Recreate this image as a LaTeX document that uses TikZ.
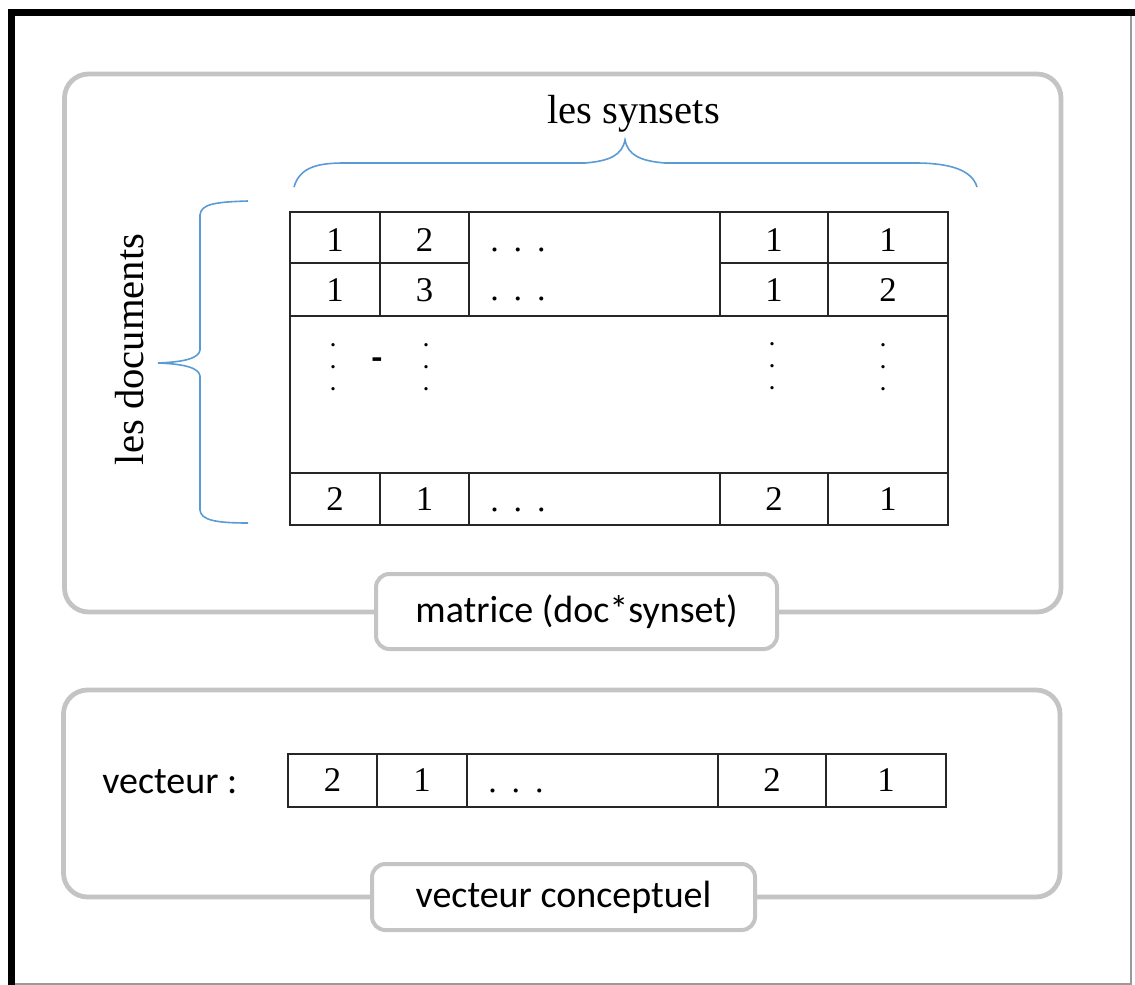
\documentclass[tikz,border=0pt]{standalone}
\usepackage{fontspec}
\setmainfont{Liberation Serif}
\newfontfamily\labelfont{Carlito}
\definecolor{boxgray}{HTML}{C4C4C4}
\definecolor{gridline}{HTML}{262626}
\definecolor{braceblue}{HTML}{5B9BD5}
\definecolor{edgegray}{HTML}{9A9A9A}
% horizontal and vertical ellipses used inside the cells
\newcommand\rowdots{.\hskip0.44em.\hskip0.44em.}
\newcommand\coldots{\vbox{\baselineskip=16.5pt\lineskiplimit=-10pt\hbox{.}\hbox{.}\hbox{.}}}
\begin{document}
\begin{tikzpicture}[x=0.75pt,y=-0.75pt,
  outline/.style={draw=boxgray, line width=3.6pt, rounded corners=18pt},
  tagbox/.style={draw=boxgray, line width=3pt, fill=white, rounded corners=10pt,
    inner sep=0pt, font=\labelfont\fontsize{28.5}{30}\selectfont},
  grid/.style={draw=gridline, line width=1.2pt},
  num/.style={anchor=base, inner sep=0pt, font=\fontsize{26}{28}\selectfont},
  dotsrow/.style={anchor=base west, inner sep=0pt, font=\fontsize{25.5}{28}\selectfont},
  dotscol/.style={anchor=base, inner sep=0pt, font=\bfseries\fontsize{15}{16.5}\selectfont},
  caption/.style={anchor=base, inner sep=0pt, font=\fontsize{30.5}{32}\selectfont},
  plain/.style={anchor=base west, inner sep=0pt, font=\labelfont\fontsize{28.5}{30}\selectfont},
  brace/.style={draw=braceblue, line width=1.2pt}]
\useasboundingbox (0,0) rectangle (1135,985);

% page frame
\fill[black] (8,9) rectangle (1135,16);
\fill[black] (8,9) rectangle (15,985);
\draw[edgegray, line width=0.8pt] (1131,16) -- (1131,984) -- (15,984);

% grouping panels
\draw[outline] (64.5,74) rectangle (1061,612);
\draw[outline] (63.5,690) rectangle (1060,897);

% panel labels
\node[tagbox, minimum width=300.75pt, minimum height=56.25pt] (mlabel) at (576.5,611.5) {matrice (doc*synset)};
\node[tagbox, minimum width=287.25pt, minimum height=49.5pt] (vlabel) at (563.5,897) {vecteur conceptuel};

% braces
\draw[brace] (294,187) .. controls (300,166) and (320,163) .. (345,163) -- (585,163)
  .. controls (610,161) and (622,155) .. (625,140)
  .. controls (628,155) and (640,161) .. (665,163) -- (915,163)
  .. controls (950,163) and (972,170) .. (977,187);
\draw[brace] (248,201) .. controls (215,202) and (201,204) .. (200,215) -- (200,350)
  .. controls (199,358) and (185,362) .. (158,363)
  .. controls (185,364) and (199,368) .. (200,376) -- (200,510)
  .. controls (201,520) and (215,523) .. (248,523);
\node[caption] (synsets) at (633.5,123) {les synsets};
\node[caption, rotate=90] (documents) at (143,349.5) {les documents};

% document x synset matrix
\draw[grid] (290,212) rectangle (948,525);
\draw[grid] (290,263) -- (469,263) (720,263) -- (948,263);
\draw[grid] (290,316) -- (948,316) (290,473) -- (948,473);
\foreach \cx in {380,469,720,828}{
  \draw[grid] (\cx,212) -- (\cx,316);
  \draw[grid] (\cx,473) -- (\cx,525);
}
\node[num] (m11) at (335,251) {1};
\node[num] (m12) at (424.5,251) {2};
\node[dotsrow] (m1d) at (490,251) {\rowdots};
\node[num] (m1a) at (774,251) {1};
\node[num] (m1b) at (888,251) {1};
\node[num] (m21) at (335,301) {1};
\node[num] (m22) at (424.5,301) {3};
\node[dotsrow] (m2d) at (490,300) {\rowdots};
\node[num] (m2a) at (774,301) {1};
\node[num] (m2b) at (888,301) {2};
\node[dotscol] (c1) at (333,390) {\coldots};
\node[dotscol] (c2) at (426,390) {\coldots};
\node[dotscol] (c3) at (772,389) {\coldots};
\node[dotscol] (c4) at (883,390) {\coldots};
\node[anchor=base, inner sep=0pt, font=\labelfont\bfseries\fontsize{26}{28}\selectfont] (dash) at (377,369) {-};
\node[num] (mn1) at (335,510) {2};
\node[num] (mn2) at (424.5,510) {1};
\node[dotsrow] (mnd) at (490,511) {\rowdots};
\node[num] (mna) at (774,510) {2};
\node[num] (mnb) at (888,510) {1};

% concept vector
\node[plain] (vtag) at (102,793) {vecteur :};
\draw[grid] (288,754) rectangle (946,807);
\foreach \cx in {377,467,718,826}{
  \draw[grid] (\cx,754) -- (\cx,807);
}
\node[num] (v1) at (332.5,791) {2};
\node[num] (v2) at (422,791) {1};
\node[dotsrow] (vd) at (488,792) {\rowdots};
\node[num] (va) at (772,791) {2};
\node[num] (vb) at (886,791) {1};
\end{tikzpicture}
\end{document}
